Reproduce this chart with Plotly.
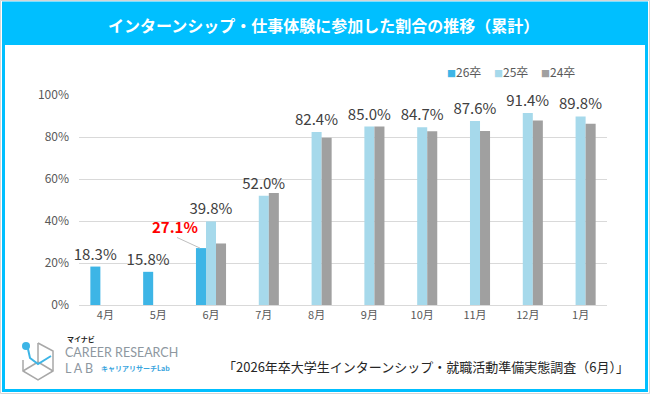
import plotly.graph_objects as go

# ---- data ----
categories = ['4月', '5月', '6月', '7月', '8月', '9月', '10月', '11月', '12月', '1月']
series_names = ['26卒', '25卒', '24卒']
s26 = [18.3, 15.8, 27.1, None, None, None, None, None, None, None]
s25 = [None, None, 39.8, 52.0, 82.4, 85.0, 84.7, 87.6, 91.4, 89.8]
s24 = [None, None, 29.3, 53.3, 79.7, 85.0, 82.7, 82.8, 87.9, 86.3]
highlight_cat = '6月'
title_text = 'インターンシップ・仕事体験に参加した割合の推移（累計）'
source_text = '「2026年卒大学生インターンシップ・就職活動準備実態調査（6月）」'
y_ticks = [0, 20, 40, 60, 80, 100]

# ---- style ----
C26, C25, C24 = '#3DB5E6', '#A6D9EB', '#A0A0A0'
CYAN = '#00BFFF'
FONT = 'Noto Sans CJK JP'
W, H = 650, 394
L, R, T, B = 79, 43, 95, 89
PW, PH = W - L - R, H - T - B


def px(x):
    return (x - L) / PW


def py(y):
    return (H - B - y) / PH


def fmt(v):
    return '' if v is None else f'{v:.1f}%'


hi = categories.index(highlight_cat)
text26 = [fmt(v) if i != hi else '' for i, v in enumerate(s26)]
text25 = [fmt(v) for v in s25]

fig = go.Figure()
for name, vals, col, txt in [(series_names[0], s26, C26, text26),
                             (series_names[1], s25, C25, text25),
                             (series_names[2], s24, C24, None)]:
    fig.add_trace(go.Bar(
        x=categories, y=vals, name=name, marker=dict(color=col, line=dict(width=0)),
        text=txt, textposition='outside' if txt else 'none', constraintext='none',
        textfont=dict(family=FONT, size=15, color='#404040'), cliponaxis=False,
        showlegend=False, hoverinfo='skip'))

shapes = [
    dict(type='rect', xref='paper', yref='paper', x0=px(0.5), x1=px(649.5), y0=py(0.5), y1=py(393.5),
         line=dict(color='#D5D5D5', width=1), layer='below'),
    dict(type='rect', xref='paper', yref='paper', x0=px(3.5), x1=px(646.5), y0=py(3), y1=py(390.5),
         line=dict(color=CYAN, width=3), layer='below'),
    dict(type='rect', xref='paper', yref='paper', x0=px(2), x1=px(648), y0=py(2), y1=py(45),
         fillcolor=CYAN, line=dict(width=0), layer='below'),
]


def path(points, close=False):
    s = 'M ' + ' L '.join(f'{px(a)},{py(b)}' for a, b in points)
    return s + (' Z' if close else '')


# logo icon (decoration)
GRAYL = '#A8A8A8'
shapes.append(dict(type='path', xref='paper', yref='paper',
                   path=path([(38, 343), (53, 351), (53, 371), (38, 380), (23, 371), (23, 360)]),
                   line=dict(color=GRAYL, width=1.5)))
shapes.append(dict(type='path', xref='paper', yref='paper',
                   path=path([(38, 343), (38, 362), (53, 371)]),
                   line=dict(color=GRAYL, width=1.5)))
shapes.append(dict(type='path', xref='paper', yref='paper',
                   path=path([(38, 362), (23, 371)]),
                   line=dict(color=GRAYL, width=1.5)))
shapes.append(dict(type='path', xref='paper', yref='paper',
                   path=path([(28, 349), (30, 358), (38, 364), (51, 356)]),
                   line=dict(color=C26, width=2)))
shapes.append(dict(type='circle', xref='paper', yref='paper', x0=px(22), x1=px(30), y0=py(342), y1=py(350),
                   fillcolor=C26, line=dict(width=0)))


def ptext(x, y, text, size, color, family=FONT, xanchor='center'):
    return dict(xref='paper', yref='paper', x=px(x), y=py(y), xanchor=xanchor, yanchor='middle',
                text=text, showarrow=False, borderpad=0,
                font=dict(family=family, size=size, color=color))


annotations = [
    ptext(323, 25, f'<b>{title_text}</b>', 16, 'white'),
    ptext(630, 366, source_text, 13, '#262626', xanchor='right'),
    # highlighted value
    dict(x=highlight_cat, y=s26[hi], xshift=-36, yshift=22, text=f'<b>{fmt(s26[hi])}</b>', showarrow=False,
         font=dict(family=FONT, size=15, color='#FF0000')),
    dict(x=highlight_cat, y=s26[hi], xshift=-11, text=' ', showarrow=True, ax=-26, ay=-12,
         arrowhead=0, arrowwidth=1, arrowcolor='#BFBFBF'),
    # logo texts
    ptext(66, 339, '<b>マイナビ</b>', 7, '#222222', xanchor='left'),
    ptext(64, 352, 'CAREER RESEARCH', 12.5, '#8E979F', family='Lato', xanchor='left'),
    ptext(64, 368, 'L A B', 12.5, '#8E979F', family='Lato', xanchor='left'),
    ptext(100, 368, '<b>キャリアリサーチLab</b>', 7, '#3AA5DE', xanchor='left'),
]

# legend drawn as text items
leg_x = [446, 493, 540]
for name, col, lx in zip(series_names, [C26, C25, C24], leg_x):
    annotations.append(ptext(lx, 71, f'<span style="color:{col};font-size:9px">■</span>{name}',
                             12, '#595959', xanchor='left'))

fig.update_layout(
    width=W, height=H, margin=dict(l=L, r=R, t=T, b=B),
    paper_bgcolor='white', plot_bgcolor='white',
    barmode='group', bargap=0.43, bargroupgap=0,
    font=dict(family=FONT, color='#595959'),
    shapes=shapes, annotations=annotations, showlegend=False,
    xaxis=dict(type='category', showgrid=False, showline=True, linecolor='#D9D9D9', linewidth=1,
               ticks='', tickfont=dict(family=FONT, size=11, color='#595959'), fixedrange=True),
    yaxis=dict(range=[0, 100], tickvals=y_ticks, ticktext=[f'{v}%' for v in y_ticks],
               showgrid=True, gridcolor='#D9D9D9', gridwidth=1, zeroline=False, showline=False,
               ticks='', ticklabelstandoff=9, tickfont=dict(family=FONT, size=12, color='#595959'),
               fixedrange=True),
)

fig.write_html('out.html', config={'displayModeBar': False},
               post_script="document.body.style.margin='0px';document.body.style.overflow='hidden';")
